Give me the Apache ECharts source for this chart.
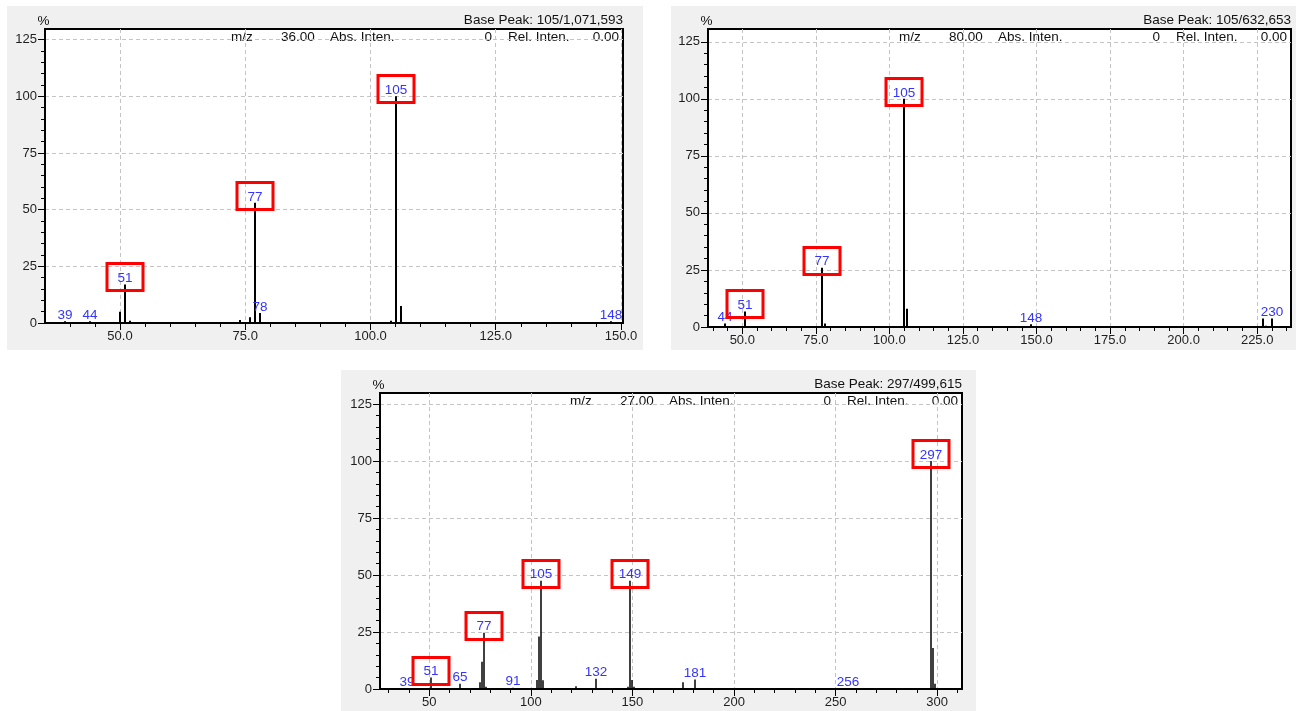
<!DOCTYPE html>
<html>
<head>
<meta charset="utf-8">
<script src="https://cdn.jsdelivr.net/npm/echarts@6/dist/echarts.min.js"></script>
<style>
  html, body { margin: 0; padding: 0; background: #fff; }
  #wrap { position: relative; width: 1304px; height: 711px; }
  .panel { position: absolute; background: #f0f0f0; }
  #chart { position: absolute; left: 0; top: 0; width: 1304px; height: 711px; }
</style>
</head>
<body>
<div id="wrap">
  <div class="panel" style="left:7px;top:6px;width:636px;height:344px"></div>
  <div class="panel" style="left:671px;top:6px;width:625px;height:344px"></div>
  <div class="panel" style="left:341px;top:370px;width:635px;height:341px"></div>
  <div id="chart"></div>
</div>
<script>
// ---- Spectrum A: scan at m/z 36.00 ----
const MZ_A  = [39, 44, 50, 51, 52, 74, 76, 77, 78, 104, 105, 106, 148];
const INT_A = [0.8, 0.8, 5, 17, 1, 1.3, 2.5, 53, 4.4, 1, 100, 7.5, 0.8];
const TAG_A = [39, 44, 51, 77, 78, 105, 148];
const BOX_A = [51, 77, 105];
const SCAN_A = '36.00';
const BASE_A = 'Base Peak: 105/1,071,593';

// ---- Spectrum B: scan at m/z 80.00 ----
const MZ_B  = [44, 51, 77, 78, 105, 106, 148, 227, 228, 230];
const INT_B = [1.5, 6.8, 26, 1.5, 100, 8, 1.2, 3.7, 0.6, 3.7];
const TAG_B = [44, 51, 77, 105, 148, 230];
const BOX_B = [51, 77, 105];
const SCAN_B = '80.00';
const BASE_B = 'Base Peak: 105/632,653';

// ---- Spectrum C: scan at m/z 27.00 ----
const MZ_C  = [39, 51, 65, 75, 76, 77, 78, 91, 103, 104, 105, 106, 122, 132, 148, 149, 150, 151, 175, 181, 256, 297, 298, 299];
const INT_C = [0.4, 5, 2.3, 3, 12, 24.7, 1, 0.6, 4, 23, 47.5, 3.8, 1.2, 4.5, 1, 47.5, 4, 1, 3, 4.2, 0.3, 100, 18, 2.3];
const TAG_C = [39, 51, 65, 77, 91, 105, 132, 149, 181, 256, 297];
const BOX_C = [51, 77, 105, 149, 297];
const SCAN_C = '27.00';
const BASE_C = 'Base Peak: 297/499,615';

// ---- Axis tick labels ----
const X_TICKS_A = [50, 75, 100, 125, 150];
const X_TICKS_B = [50, 75, 100, 125, 150, 175, 200, 225];
const X_TICKS_C = [50, 100, 150, 200, 250, 300];
const Y_TICKS   = [0, 25, 50, 75, 100, 125];

function steps(a, b, s) { const r = []; for (let v = a; v <= b; v += s) r.push(v); return r; }

const FAMILY = 'Liberation Sans';
const FONT = '13.5px "Liberation Sans", Arial, sans-serif';
const LABEL_BLUE = '#3434ff';

const PANELS = [
  { grid: { left: 45,  top: 29,  width: 578, height: 294 }, xMin: 35.03, xMax: 150.4, yMax: 129.7,
    xTicks: X_TICKS_A, xMinor: steps(40, 150, 5), fixed: true, stick: 2,
    mz: MZ_A, inten: INT_A, tag: TAG_A, box: BOX_A, scan: SCAN_A, base: BASE_A },
  { grid: { left: 708, top: 29,  width: 583, height: 298 }, xMin: 38.35, xMax: 236.5, yMax: 130.6,
    xTicks: X_TICKS_B, xMinor: steps(40, 235, 5), fixed: true, stick: 2,
    mz: MZ_B, inten: INT_B, tag: TAG_B, box: BOX_B, scan: SCAN_B, base: BASE_B },
  { grid: { left: 380, top: 393, width: 582, height: 296 }, xMin: 25.74, xMax: 312.2, yMax: 129.8,
    xTicks: X_TICKS_C, xMinor: steps(30, 310, 10), fixed: false, stick: 1.5,
    mz: MZ_C, inten: INT_C, tag: TAG_C, box: BOX_C, scan: SCAN_C, base: BASE_C }
];

const Y_MINOR = steps(0, 125, 5);
const dashed = { show: true, lineStyle: { color: '#c4c4c4', type: [4, 3], width: 1 } };
const tickLabel = { color: '#1e1e1e', fontSize: 13, fontFamily: FAMILY };

function stickRenderer(tags, boxes, w) {
  return function (params, api) {
    const m = api.value(0), v = api.value(1);
    const p0 = api.coord([m, 0]);
    const p1 = api.coord([m, v]);
    const x = Math.round(p0[0]);
    const kids = [{
      type: 'rect',
      shape: { x: x - w / 2, y: p1[1], width: w, height: p0[1] - p1[1] },
      style: { fill: '#000' }
    }];
    if (tags.indexOf(m) >= 0) {
      kids.push({
        type: 'text',
        style: { text: String(m), x: x, y: p1[1] + 1, align: 'center', verticalAlign: 'bottom',
                 fill: LABEL_BLUE, font: FONT }
      });
      if (boxes.indexOf(m) >= 0) {
        const cy = Math.round(p1[1] - 7);
        kids.push({
          type: 'rect',
          shape: { x: x - 18, y: cy - 13.5, width: 36, height: 27 },
          style: { fill: 'none', stroke: '#ff0000', lineWidth: 3 }
        });
      }
    }
    return { type: 'group', children: kids };
  };
}

const grids = [], xAxes = [], yAxes = [], series = [], graphics = [];

PANELS.forEach((p, i) => {
  const g = p.grid;
  grids.push(Object.assign({ show: true, backgroundColor: '#fff', borderColor: '#000', borderWidth: 2 }, g));

  xAxes.push({
    type: 'value', gridIndex: i, position: 'bottom', min: p.xMin, max: p.xMax,
    axisLine: { show: true, onZero: false, lineStyle: { color: '#000', width: 2 } },
    axisTick: { show: true, length: 7, customValues: p.xTicks, lineStyle: { color: '#000' } },
    axisLabel: Object.assign({ customValues: p.xTicks, margin: 7,
      formatter: v => p.fixed ? Number(v).toFixed(1) : String(Math.round(v)) }, tickLabel),
    splitLine: dashed
  });
  xAxes.push({
    type: 'value', gridIndex: i, position: 'bottom', min: p.xMin, max: p.xMax,
    axisLine: { show: false, onZero: false },
    axisTick: { show: true, length: 4, customValues: p.xMinor, lineStyle: { color: '#000' } },
    axisLabel: { show: false }, splitLine: { show: false }
  });

  yAxes.push({
    type: 'value', gridIndex: i, position: 'left', min: 0, max: p.yMax,
    axisLine: { show: true, onZero: false, lineStyle: { color: '#000', width: 2 } },
    axisTick: { show: true, length: 7, customValues: Y_TICKS, lineStyle: { color: '#000' } },
    axisLabel: Object.assign({ customValues: Y_TICKS, margin: 8 }, tickLabel),
    splitLine: dashed
  });
  yAxes.push({
    type: 'value', gridIndex: i, position: 'left', min: 0, max: p.yMax,
    axisLine: { show: false, onZero: false },
    axisTick: { show: true, length: 4, customValues: Y_MINOR, lineStyle: { color: '#000' } },
    axisLabel: { show: false }, splitLine: { show: false }
  });

  series.push({
    type: 'custom', xAxisIndex: i * 2, yAxisIndex: i * 2, clip: false,
    data: p.mz.map((m, k) => [m, p.inten[k]]),
    renderItem: stickRenderer(p.tag, p.box, p.stick)
  });

  // header texts of the scan panel
  const right = g.left + g.width;
  const rowY = g.top + 8;
  const txt = (text, x, y, align) => ({
    type: 'text', x: x, y: y, silent: true,
    style: { text: text, fill: '#111', font: FONT, align: align, textAlign: align,
             verticalAlign: 'middle', textVerticalAlign: 'middle' }
  });
  graphics.push(txt('%', g.left - 1.5, g.top - 8, 'center'));
  graphics.push(txt(p.base, right, g.top - 8.5, 'right'));
  graphics.push(txt('m/z', right - 392, rowY, 'left'));
  graphics.push(txt(p.scan, right - 342, rowY, 'left'));
  graphics.push(txt('Abs. Inten.', right - 293, rowY, 'left'));
  graphics.push(txt('0', right - 131, rowY, 'right'));
  graphics.push(txt('Rel. Inten.', right - 115, rowY, 'left'));
  graphics.push(txt('0.00', right - 4, rowY, 'right'));
});

const chart = echarts.init(document.getElementById('chart'), null, { renderer: 'canvas' });
chart.setOption({
  animation: false,
  backgroundColor: 'transparent',
  grid: grids,
  xAxis: xAxes,
  yAxis: yAxes,
  series: series,
  graphic: { elements: graphics }
});
</script>
</body>
</html>
